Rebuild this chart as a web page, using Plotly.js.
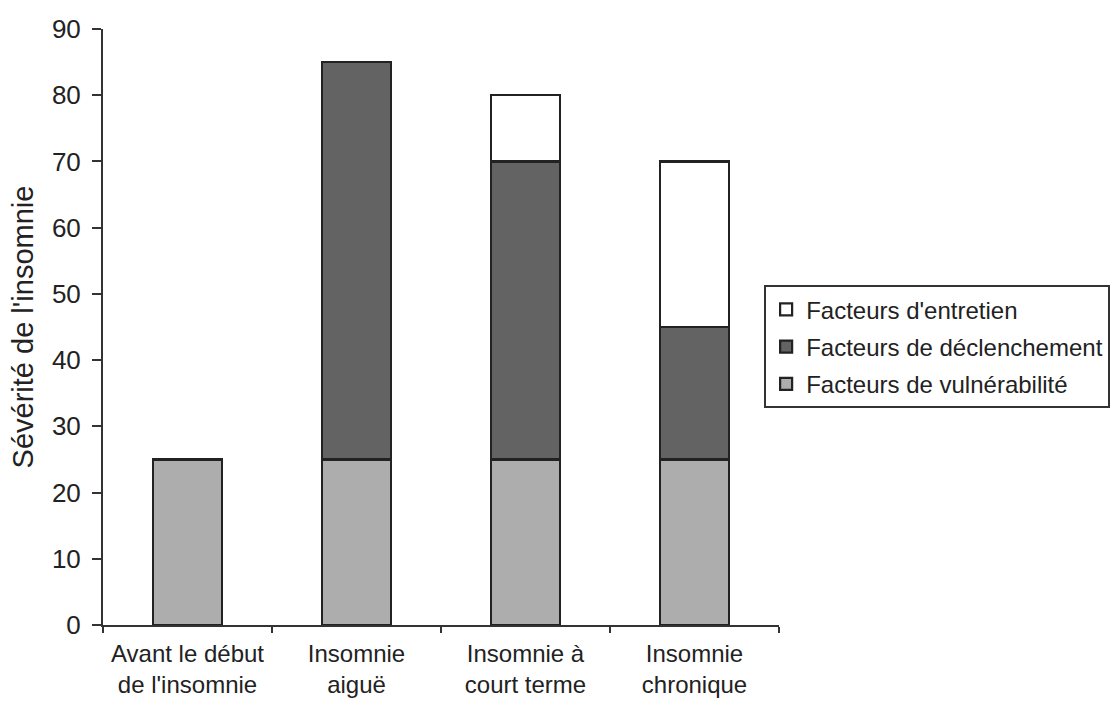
<!DOCTYPE html>
<html>
<head>
<meta charset="utf-8">
<script src="https://cdn.plot.ly/plotly-3.0.1.min.js"></script>
<style>html,body{margin:0;padding:0;background:#fff;overflow:hidden;}</style>
</head>
<body>
<div id="chart" style="width:1113px;height:709px;"></div>
<script>
var categories = ["Avant le début<br>de l'insomnie", "Insomnie<br>aiguë", "Insomnie à<br>court terme", "Insomnie<br>chronique"];
var vulnerabilite = [25, 25, 25, 25];
var declenchement = [null, 60, 45, 20];
var entretien = [null, null, 10, 25];

var seriesNames = ["Facteurs de vulnérabilité", "Facteurs de déclenchement", "Facteurs d'entretien"];
var seriesColors = ["#adadad", "#636363", "#ffffff"];
var seriesValues = [vulnerabilite, declenchement, entretien];

var traces = seriesValues.map(function (vals, i) {
  return {
    type: "bar",
    name: seriesNames[i],
    legendgroup: "g" + i,
    legendrank: 10 - i,
    x: categories,
    y: vals,
    marker: {color: seriesColors[i], line: {color: "#222", width: 2.2}},
    hoverinfo: "name+y"
  };
});

var font = {family: "Liberation Sans, Arial, sans-serif", color: "#222"};

var layout = {
  width: 1113,
  height: 709,
  margin: {l: 103, r: 334, t: 29, b: 84, autoexpand: false},
  paper_bgcolor: "#fff",
  plot_bgcolor: "#fff",
  barmode: "stack",
  bargap: 0.59,
  font: Object.assign({size: 24}, font),
  showlegend: true,
  legend: {
    x: 0.978, xanchor: "left",
    y: 0.57, yanchor: "top",
    bgcolor: "#fff",
    bordercolor: "#333",
    borderwidth: 2,
    traceorder: "grouped",
    tracegroupgap: 3,
    font: Object.assign({size: 24}, font)
  },
  xaxis: {
    type: "category",
    range: [-0.5, 3.5],
    showline: true,
    linecolor: "#333",
    linewidth: 2,
    ticks: "outside",
    tickson: "boundaries",
    ticklen: 6,
    tickwidth: 2,
    tickcolor: "#333",
    tickangle: 0,
    showgrid: false,
    zeroline: false,
    tickfont: Object.assign({size: 24}, font),
    ticklabelstandoff: 6,
    fixedrange: true
  },
  yaxis: {
    range: [0, 90],
    tickmode: "linear",
    tick0: 0,
    dtick: 10,
    showline: true,
    linecolor: "#333",
    linewidth: 2,
    ticks: "outside",
    ticklen: 9,
    tickwidth: 2,
    tickcolor: "#333",
    showgrid: false,
    zeroline: false,
    tickfont: Object.assign({size: 26}, font),
    ticklabelstandoff: 6,
    title: {text: "Sévérité de l'insomnie", font: Object.assign({size: 29}, font), standoff: 10},
    fixedrange: true
  }
};

Plotly.newPlot("chart", traces, layout, {displayModeBar: false, staticPlot: true});
</script>
</body>
</html>
